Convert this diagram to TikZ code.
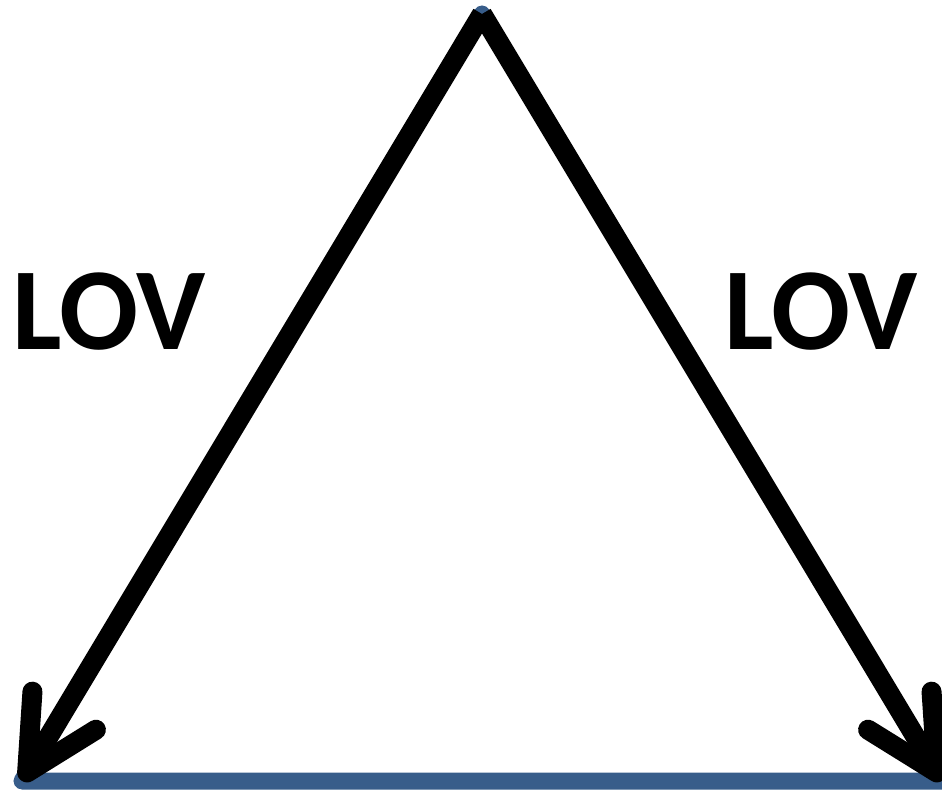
\documentclass[tikz,border=0pt]{standalone}
\usepackage{fontspec}
\setmainfont{Carlito}
\usetikzlibrary{arrows.meta, positioning}
\definecolor{baseblue}{RGB}{56,93,138}

\begin{document}
\begin{tikzpicture}[
        x=1pt, y=-1pt,
        every node/.style={font=\fontsize{117}{117}\selectfont\bfseries, inner sep=0pt},
        lbl/.style={anchor=base},
        edge/.style={draw=baseblue, line width=17pt, line join=round},
        arr/.style={-{Straight Barb[length=72pt, width=74pt, round]}, line width=20pt},
    ]
    \useasboundingbox (0,0) rectangle (942,791);

    %% ===== Corners =====
    \coordinate (apex) at (482,14);
    \coordinate (bl) at (22,781);
    \coordinate (br) at (942,781);

    %% ===== Blue triangle =====
    \draw[edge] (apex) -- (bl) -- (br) -- cycle;

    %% ===== Arrows =====
    \draw[arr] (apex) -- (bl);
    \draw[arr] (apex) -- (br);

    %% ===== Labels =====
    \node[lbl] (lovleft) at (109,350) {LOV};
    \node[lbl] (lovright) at (821,350) {LOV};

\end{tikzpicture}
\end{document}
